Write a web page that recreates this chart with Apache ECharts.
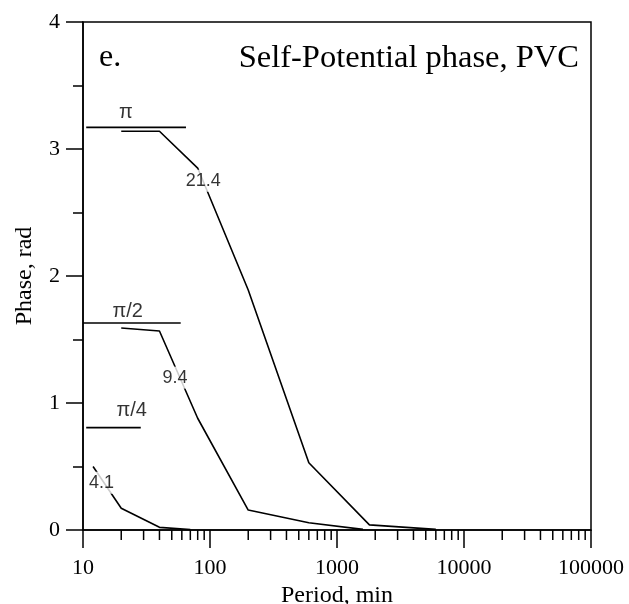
<!DOCTYPE html>
<html>
<head>
<meta charset="utf-8">
<script src="https://cdn.jsdelivr.net/npm/echarts@6/dist/echarts.min.js"></script>
<style>
  html, body { margin: 0; padding: 0; background: #fff; }
  #chart { width: 629px; height: 604px; }
</style>
</head>
<body>
<div id="chart"></div>
<script>
// Phase curves: [period (min), phase (rad)]
const curve21 = [[20, 3.14], [40, 3.14], [80, 2.85], [200, 1.89], [600, 0.53], [1800, 0.04], [6000, 0.005]];
const curve9 = [[20, 1.59], [40, 1.567], [80, 0.88], [200, 0.157], [600, 0.057], [1600, 0.005]];
const curve4 = [[12, 0.5], [20, 0.171], [40, 0.021], [70, 0.004]];

// Reference levels with their markers
const levelPi = [[10.6, 3.17], [64.7, 3.17]];
const levelPiHalf = [[10, 1.63], [58.8, 1.63]];
const levelPiQuarter = [[10.6, 0.806], [28.5, 0.806]];
const levelNames = ['π', 'π/2', 'π/4'];
const levelNamePos = [[21.8, 3.29], [22.5, 1.72], [24.2, 0.945]];

// Curve tags
const curveNames = ['21.4', '9.4', '4.1'];
const curveNamePos = [[88.5, 2.75], [53, 1.2], [14.0, 0.372]];

// Axis ticks
const xMajorTicks = [10, 100, 1000, 10000, 100000];
const xMinorTicks = [20, 30, 40, 50, 60, 70, 80, 90,
                     200, 300, 400, 500, 600, 700, 800, 900,
                     2000, 3000, 4000, 5000, 6000, 7000, 8000, 9000,
                     20000, 30000, 40000, 50000, 60000, 70000, 80000, 90000];
const yTicks = [0, 1, 2, 3, 4];

const serif = '"Liberation Serif", "Times New Roman", serif';
const sans = '"Liberation Sans", Arial, sans-serif';
const ink = '#000';

function lineSeries(data, width) {
  return {
    type: 'line', data: data, symbol: 'none', z: 3,
    lineStyle: { color: ink, width: width }, silent: true
  };
}

const chart = echarts.init(document.getElementById('chart'), null, { renderer: 'canvas' });

chart.setOption({
  animation: false,
  backgroundColor: '#fff',
  grid: {
    left: 83, top: 22, width: 508, height: 508,
    containLabel: false, outerBoundsMode: 'none',
    show: true, borderColor: ink, borderWidth: 1.5, backgroundColor: 'transparent'
  },
  xAxis: {
    type: 'log', logBase: 10,
    min: xMajorTicks[0], max: xMajorTicks[xMajorTicks.length - 1],
    name: 'Period, min', nameLocation: 'middle', nameGap: 50,
    nameTextStyle: { fontFamily: serif, fontSize: 24, color: ink },
    axisLine: { onZero: false, lineStyle: { color: ink, width: 1.5 } },
    axisTick: { show: true, inside: false, length: 18, lineStyle: { color: ink, width: 1.5 } },
    axisLabel: {
      margin: 27, fontFamily: serif, fontSize: 22, color: ink,
      formatter: v => String(Math.round(v))
    },
    splitLine: { show: false }
  },
  yAxis: {
    type: 'value', min: yTicks[0], max: yTicks[yTicks.length - 1], interval: 1,
    name: 'Phase, rad', nameLocation: 'middle', nameGap: 46, nameRotate: 90,
    nameTextStyle: { fontFamily: serif, fontSize: 24, color: ink },
    axisLine: { show: true, lineStyle: { color: ink, width: 1.5 } },
    axisTick: { show: true, inside: false, length: 17, lineStyle: { color: ink, width: 1.5 } },
    minorTick: { show: true, splitNumber: 2, length: 10, lineStyle: { color: ink, width: 1.5 } },
    axisLabel: { margin: 23, fontFamily: serif, fontSize: 22, color: ink },
    splitLine: { show: false }
  },
  graphic: [
    { type: 'text', left: 99, top: 42, style: { text: 'e.', font: '32px ' + serif, fill: ink } },
    { type: 'text', right: 50, top: 42, style: { text: 'Self-Potential phase, PVC', font: '32.5px ' + serif, fill: ink } }
  ],
  series: [
    lineSeries(curve21, 1.6),
    lineSeries(curve9, 1.6),
    lineSeries(curve4, 1.6),
    lineSeries(levelPi, 1.6),
    lineSeries(levelPiHalf, 1.6),
    lineSeries(levelPiQuarter, 1.6),
    {
      // minor ticks of the logarithmic period axis
      type: 'custom', clip: false, silent: true, z: 4,
      data: xMinorTicks.map(v => [v, 0]),
      renderItem: function (params, api) {
        const p = api.coord([api.value(0), 0]);
        return {
          type: 'line',
          shape: { x1: p[0], y1: p[1], x2: p[0], y2: p[1] + 10 },
          style: { stroke: ink, lineWidth: 1.5 }
        };
      }
    },
    {
      // curve tags drawn over the lines
      type: 'scatter', symbolSize: 0, z: 10, silent: true,
      data: curveNames.map((n, i) => ({ name: n, value: curveNamePos[i] })),
      label: {
        show: true, position: 'inside', formatter: '{b}',
        fontFamily: sans, fontSize: 18, color: ink,
        textBorderWidth: 0, backgroundColor: '#fff', padding: [2, 1]
      }
    },
    {
      type: 'scatter', symbolSize: 0, z: 10, silent: true,
      data: levelNames.map((n, i) => ({ name: n, value: levelNamePos[i] })),
      label: {
        show: true, position: 'inside', formatter: '{b}',
        fontFamily: sans, fontSize: 20, color: ink, textBorderWidth: 0
      }
    }
  ]
});
</script>
</body>
</html>
